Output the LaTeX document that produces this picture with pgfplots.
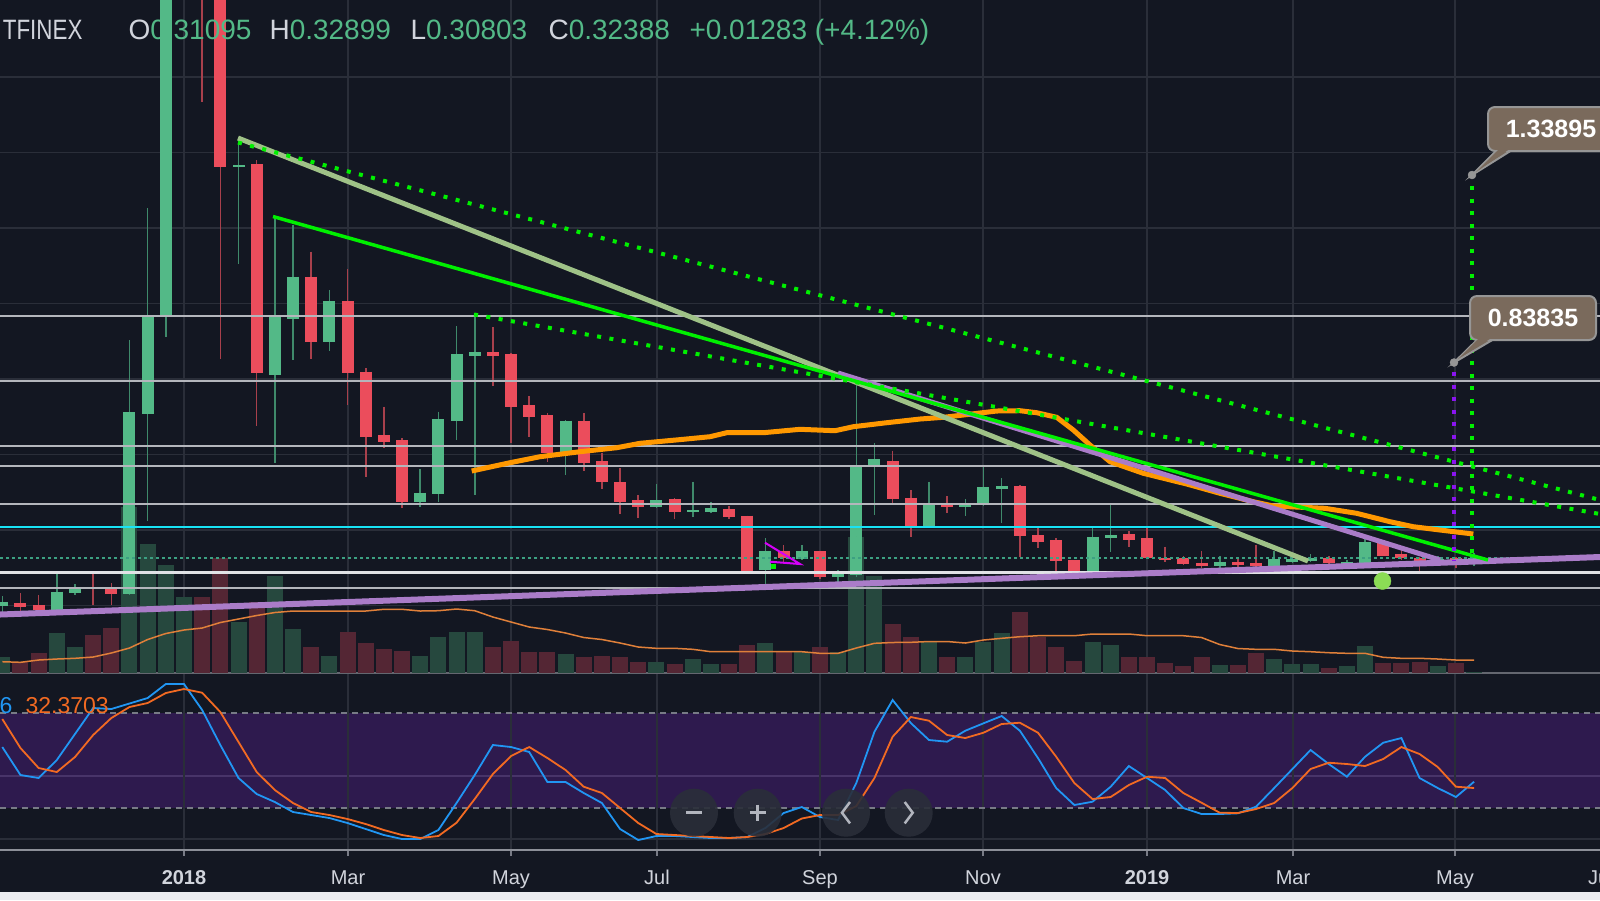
\documentclass[border=0pt]{standalone}
\usepackage{pgfplots}
\usepackage{pgfplotstable}
\pgfplotsset{compat=1.18}
\usepackage{fontspec}
\setmainfont{Liberation Sans}

\definecolor{bg}{HTML}{131722}
\definecolor{gridc}{HTML}{2A2E39}
\definecolor{upc}{HTML}{53B987}
\definecolor{dnc}{HTML}{EB4D5C}
\definecolor{upw}{HTML}{3F8A6B}
\definecolor{dnw}{HTML}{A8404C}
\definecolor{volup}{HTML}{26483E}
\definecolor{voldn}{HTML}{542634}
\definecolor{lvl}{HTML}{B4B6BC}
\definecolor{lvlw}{HTML}{E1E2E6}
\definecolor{sage}{HTML}{9FC287}
\definecolor{lime}{HTML}{00F000}
\definecolor{lav}{HTML}{AA7CC8}
\definecolor{ma}{HTML}{FF9800}
\definecolor{vma}{HTML}{E0803A}
\definecolor{cyanl}{HTML}{18E3F5}
\definecolor{pline}{HTML}{3CA082}
\definecolor{kblue}{HTML}{2196F3}
\definecolor{dorange}{HTML}{F26A22}
\definecolor{band}{HTML}{2E1A4E}
\definecolor{bandgrid}{HTML}{483469}
\definecolor{dashc}{HTML}{787B86}
\definecolor{sepc}{HTML}{646770}
\definecolor{botc}{HTML}{8C8F98}
\definecolor{lbl}{HTML}{D1D4DC}
\definecolor{callout}{HTML}{7A6A5C}
\definecolor{callbd}{HTML}{969696}
\definecolor{violet}{HTML}{8A14F0}
\definecolor{magl}{HTML}{D500F9}
\definecolor{dotg}{HTML}{8BDC55}
\definecolor{btn}{HTML}{2A2E39}
\definecolor{btnsym}{HTML}{B2B5BE}
\definecolor{strip}{HTML}{EBECF0}

% candles: x = pixel column, o h l c = pixel rows, v = top of volume bar
\pgfplotstableread{
x o h l c v
2.3 606 596 612 602 657.3
56.81 610 573 611 591.7 633.3
74.98 593 584 595 588 647.3
129.49 594 340 595 412 506.7
147.66 414 208 521 316 544
165.83 316 -300 337 -250 565
184 -200 -600 -100 -400 596.7
238.51 167 137 264 165 621.7
274.85 375 216.7 463 316.7 576
293.02 319 225 360 276.7 629.3
329.36 341.7 290 350.7 301 656
420.21 501.7 469 506.7 492.7 656
438.38 494 411.7 501.7 419 636.7
456.55 420.7 326 440 354 631.7
474.72 355.7 315 495 352 631.7
565.57 452.7 420 475 420.7 654.3
656.42 506.7 484 508.3 500 661.7
692.76 512.3 481.7 517.3 510 659.3
710.93 512.3 501.7 513.3 508.3 664.3
765.44 570 538.3 585 550.7 643.3
801.78 559.3 545 560 551 651.7
838.12 576.7 570 581.7 572.7 651.7
856.29 574.5 378 576.7 465 536.7
874.46 465 443.3 515 459.3 576
928.97 525.7 481.7 528.3 504.3 641.7
965.31 506.7 499.3 516 503.3 657.3
983.48 505 466 505.5 487.3 641.7
1001.65 489.3 478.3 522.7 486 633.3
1092.5 571.7 528.3 572 536.7 641.7
1110.67 538.3 504 551.7 535 645
1219.69 566 556 568.3 561.7 665
1274.2 566 550.7 566.5 559.3 659.3
1292.37 561.7 556.7 563.3 559 664.3
1310.54 561 554 562 558 664.3
1346.88 564.3 560 565 561.7 666
1365.05 563.3 539 564 542.3 645.7
1437.73 562 556 564 559 666
1474.07 563 553 566 558 671.7
}\upT

\pgfplotstableread{
x o h l c v
20.47 603.3 593 613 606.7 661.7
38.64 605 595 612 610 652.7
93.15 587 573 605 589 635
111.32 588 583 605 594 628.3
202.17 -400 -500 102 -50 596.7
220.34 -50 -100 359 167 558.3
256.68 164 160 426 373 601.7
311.19 276.7 251.7 359 341.7 647.3
347.53 301 269 405 373 631.7
365.7 371.7 368 477 436.7 643.3
383.87 435 406.7 448 441.7 649.3
402.04 440 438 508 501.7 650.7
492.89 352 327 386 355.7 647.3
511.06 354 352.7 443 406.7 640.7
529.23 405 396 436.7 417.3 652.3
547.4 415 413.3 461.7 453.3 652.3
583.74 420.7 413.3 470.7 462.7 657.3
601.91 461 452.7 489.3 481.7 656
620.08 482.3 468 514 501.7 657.3
638.25 500 495 518.3 506.7 661.7
674.59 499.3 498 519.3 512.3 664.3
729.1 509 506 519.3 517.3 664.3
747.27 515.7 515.7 572.7 570.7 645
783.61 551 545 561.7 558.3 650.7
819.95 551 551 579.3 577.3 647.3
892.63 461 450.7 502.7 499.3 624.3
910.8 497.7 490 536.7 525.7 636.7
947.14 504.3 496 512.7 506.7 657.3
1019.82 486 485 556.7 536 611.7
1037.99 535 528.3 548.3 541.7 636.7
1056.16 540 538.3 570.7 560.7 647.3
1074.33 560 560 573 572 661
1128.84 534.3 531 547.3 540 657.3
1147.01 538.3 528.3 558.5 558.3 657.3
1165.18 558.3 546.7 561.7 560.3 663.3
1183.35 558.3 556 565 564.3 666
1201.52 562.7 551 568.3 566 657.3
1237.86 561.7 559.3 566.7 565 665
1256.03 562.7 545 566.7 566 652.7
1328.71 558.3 556 564 563.3 668.3
1383.22 542.3 540 556 555.7 663.3
1401.39 554 550 560 558.3 663.3
1419.56 558.3 556.7 572.7 561.7 661.7
1455.9 558 556.7 568.3 562 663.3
}\dnT

% volume MA, stoch K and D (pixel rows), one row per week
\pgfplotstableread{
x vma k d
2.3 661.7 747 719
20.47 662.3 775 748
38.64 660 778 768
56.81 659 760 772
74.98 658.3 734 757
93.15 657 708 735
111.32 653 709 718
129.49 648 703.5 707
147.66 639.5 698 703
165.83 633.5 684 693
184 630 684 689
202.17 628 710 692.7
220.34 622.5 745 712
238.51 619 778 742
256.68 615.5 794 772
274.85 612.5 802 790
293.02 611 812 803
311.19 611 815 812
329.36 611 818 815
347.53 611 823 819
365.7 611 829 824
383.87 609.3 835 830
402.04 609.3 839 835
420.21 611 839 838
438.38 610.7 830 836
456.55 609 803 822.7
474.72 610.7 775 799
492.89 617 745 774
511.06 622 747 756
529.23 627 752 747
547.4 629.5 782 758
565.57 633 782 770
583.74 637.5 793 786.7
601.91 639.5 803 793
620.08 643 829 808
638.25 647 840 823
656.42 648.3 836 834
674.59 648.3 836 835
692.76 649.3 837 836
710.93 651.7 838 837
729.1 651.7 838 838
747.27 651.7 837 837
765.44 651.7 828 834
783.61 651.7 813 828
801.78 651.7 807 818.5
819.95 653.3 817 815
838.12 653.3 820 815
856.29 648 783 806
874.46 643.3 731.7 778
892.63 642.5 700 736.7
910.8 642.3 723 717
928.97 641.5 740 720.7
947.14 641.5 741.7 735
965.31 643 730.7 738
983.48 640 723.3 732.7
1001.65 638.3 716 724
1019.82 636.7 730.7 722.7
1037.99 635.7 758 732.7
1056.16 635.7 788 756.7
1074.33 635.7 805 783
1092.5 634 801.7 799
1110.67 634 786.7 797
1128.84 634 766 785
1147.01 635.7 778 776.7
1165.18 635.7 790 778
1183.35 635.7 808 793
1201.52 637.5 814 802.7
1219.69 644.5 814 812.7
1237.86 648.5 813.3 813
1256.03 649.3 806.7 809
1274.2 649.3 788 803
1292.37 651 769 788
1310.54 651.7 750 769
1328.71 652.7 764 762.7
1346.88 653.3 776.7 764
1365.05 653.3 756.7 766
1383.22 657.3 742.7 759
1401.39 658.3 738 747
1419.56 658.3 778 754
1437.73 659 788 767
1455.9 660 797 786.7
1474.07 660 781.7 788
}\indT

\pgfplotsset{
  seg/.style n args={2}{only marks, mark=none, mark size=0pt,
    mark options={draw=none, fill=none}, color=#2, forget plot,
    error bars/.cd, y dir=plus, y explicit, error mark=none,
    error bar style={line width=#1, draw=#2}},
}
\newcommand\hdr{\fontsize{28}{32}\selectfont}
\newcommand\tfont{\fontsize{20}{24}\selectfont}

\begin{document}
\begin{tikzpicture}
\useasboundingbox (0,0) rectangle (1600pt,900pt);
\clip (0,0) rectangle (1600pt,900pt);
\fill[bg] (0,0) rectangle (1600pt,900pt);
\begin{axis}[
  at={(0,0)}, anchor=south west,
  width=1600pt, height=900pt, scale only axis,
  xmin=0, xmax=1600, ymin=0, ymax=900, y dir=reverse,
  hide axis,
]
% grid
\pgfplotsinvokeforeach{77,152.5,228,303.5,379,454.5,530,605.5}{
  \draw[gridc, line width=1.5pt] (0,#1) -- (1600,#1);}
\fill[band] (0,713) rectangle (1600,808);
\draw[gridc, line width=1.5pt] (0,839) -- (1600,839);
\draw[bandgrid, line width=1.5pt] (0,776) -- (1600,776);
\pgfplotsinvokeforeach{184,348,511,657,820,983,1147,1293,1455}{
  \draw[gridc, line width=1.5pt] (#1,0) -- (#1,850);
  \draw[dashc, line width=1.2pt] (#1,850) -- (#1,856);}
\draw[dashc, line width=1.5pt, dash pattern=on 6pt off 5pt] (0,713) -- (1600,713);
\draw[dashc, line width=1.5pt, dash pattern=on 6pt off 5pt] (0,808) -- (1600,808);
\draw[sepc, line width=1.5pt] (0,673) -- (1600,673);
\draw[botc, line width=1.5pt] (0,850) -- (1600,850);

% volume
\addplot[seg={16pt}{volup}] table[x=x, y=v, y error expr=673-\thisrow{v}] {\upT};
\addplot[seg={16pt}{voldn}] table[x=x, y=v, y error expr=673-\thisrow{v}] {\dnT};
\addplot[vma, line width=1.5pt] table[x=x, y=vma] {\indT};

% candles
\addplot[seg={1.6pt}{upw}] table[x=x, y=h, y error expr=\thisrow{l}-\thisrow{h}] {\upT};
\addplot[seg={1.6pt}{dnw}] table[x=x, y=h, y error expr=\thisrow{l}-\thisrow{h}] {\dnT};
\addplot[seg={12pt}{upc}] table[x=x, y=c, y error expr=\thisrow{o}-\thisrow{c}] {\upT};
\addplot[seg={12pt}{dnc}] table[x=x, y=o, y error expr=\thisrow{c}-\thisrow{o}] {\dnT};

% horizontal levels
\pgfplotsinvokeforeach{316,381,446,466,504,588}{
  \addplot[lvl, line width=2.2pt] coordinates {(0,#1) (1600,#1)};}
\addplot[lvlw, line width=2.2pt] coordinates {(0,572.5) (1600,572.5)};
\addplot[cyanl, line width=2.6pt] coordinates {(0,527) (1600,527)};
\addplot[pline, line width=1.5pt, dash pattern=on 3pt off 3pt] coordinates {(0,558) (1600,558)};

% drawings
\addplot[ma, line width=5pt] coordinates {
(471.7,471) (510,462.7) (540,456.7) (580,451.7) (616.7,447.7) (640,443.3)
(683.3,439.3) (710,436.7) (726.7,432.7) (763.3,432.7) (800,429.3) (835,430.7)
(853.3,426.7) (886.7,422.7) (920,419) (943.3,417.3) (963.3,415) (996.7,411)
(1020,410.7) (1036.7,412.7) (1056.7,417.3) (1073.3,430) (1090,445) (1110,461.7)
(1143.3,473.3) (1186.7,484) (1220,493.3) (1253.3,501.7) (1273.3,506) (1325,508.3)
(1356.7,513.3) (1390,521.7) (1413.3,526.7) (1440,530) (1473.3,534)};
\addplot[lav, line width=6pt] coordinates {(0,614.5) (1600,557)};
\addplot[sage, line width=5pt] coordinates {(238,138) (1308,561)};
\addplot[lav, line width=5pt] coordinates {(838,373) (1440,560)};
\addplot[lime, line width=3.5pt] coordinates {(273,216.5) (1488,560)};
\addplot[lime, line width=4pt, dash pattern=on 4pt off 8.5pt] coordinates {(238,142.5) (1600,500)};
\addplot[lime, line width=4pt, dash pattern=on 4pt off 8.5pt] coordinates {(474,314.5) (1600,514)};
\addplot[lime, line width=4pt, dash pattern=on 4pt off 8.5pt] coordinates {(1472,186) (1472,560)};
\addplot[violet, line width=4pt, dash pattern=on 4pt off 8.5pt] coordinates {(1454,372) (1454,560)};
\addplot[magl, line width=2pt] coordinates {(765,542.7) (800,564) (770,561.7)};
\addplot[only marks, mark=square*, mark size=2pt, lime] coordinates {(772.7,566)};
\addplot[only marks, mark=*, mark size=8.5pt, dotg] coordinates {(1382.5,581)};

% stochastic
\addplot[kblue, line width=1.8pt] table[x=x, y=k] {\indT};
\addplot[dorange, line width=1.8pt] table[x=x, y=d] {\indT};

% callouts
\filldraw[fill=callout, draw=callbd, line width=2pt] (1472,175) -- (1497,150) -- (1512,150) -- cycle;
\filldraw[fill=callout, draw=callbd, line width=2pt, rounded corners=7pt] (1488,107) rectangle (1620,151);
\fill[callout] (1500,148) -- (1511,148) -- (1476,172) -- cycle;
\filldraw[fill=callout, draw=callbd, line width=2pt] (1454,362.5) -- (1478,339) -- (1494,339) -- cycle;
\filldraw[fill=callout, draw=callbd, line width=2pt, rounded corners=7pt] (1470,296) rectangle (1596,340);
\fill[callout] (1480,337) -- (1493,337) -- (1458,359) -- cycle;
\addplot[only marks, mark=*, mark size=4pt, callbd] coordinates {(1472,175) (1454,362.5)};
\node[font=\fontsize{25}{28}\selectfont\bfseries, text=white] at (1551,128.5) {1.33895};
\node[font=\fontsize{25}{28}\selectfont\bfseries, text=white] at (1533,318) {0.83835};

% navigation buttons
\pgfplotsinvokeforeach{694,757.7,846,908.7}{
  \fill[btn, opacity=0.9] (#1,812.7) circle[radius=24pt];}
\draw[btnsym, line width=2.5pt] (686,812.7) -- (702,812.7);
\draw[btnsym, line width=2.5pt] (749.7,812.7) -- (765.7,812.7) (757.7,804.7) -- (757.7,820.7);
\draw[btnsym, line width=2.5pt] (850,802) -- (842,812.7) -- (850,823.4);
\draw[btnsym, line width=2.5pt] (904.7,802) -- (912.7,812.7) -- (904.7,823.4);

% header
\node[anchor=base west, font=\hdr, text=lbl, xscale=0.8] at (0,39.5) {TFINEX};
\node[anchor=base west, font=\hdr] at (125,39.5) {\textcolor{lbl}{O}\textcolor{upc}{0.31095}};
\node[anchor=base west, font=\hdr] at (266,39.5) {\textcolor{lbl}{H}\textcolor{upc}{0.32899}};
\node[anchor=base west, font=\hdr] at (407,39.5) {\textcolor{lbl}{L}\textcolor{upc}{0.30803}};
\node[anchor=base west, font=\hdr] at (545,39.5) {\textcolor{lbl}{C}\textcolor{upc}{0.32388}};
\node[anchor=base west, font=\hdr, text=upc] at (686,39.5) {+0.01283 (+4.12\%)};
\node[anchor=base west, font=\fontsize{23}{26}\selectfont, text=kblue] at (-4,713) {6};
\node[anchor=base west, font=\fontsize{23}{26}\selectfont, text=dorange] at (22,713) {32.3703};

% time axis
\node[anchor=base, font=\tfont\bfseries, text=lbl] at (184,884) {2018};
\node[anchor=base, font=\tfont, text=lbl] at (348,884) {Mar};
\node[anchor=base, font=\tfont, text=lbl] at (511,884) {May};
\node[anchor=base, font=\tfont, text=lbl] at (657,884) {Jul};
\node[anchor=base, font=\tfont, text=lbl] at (820,884) {Sep};
\node[anchor=base, font=\tfont, text=lbl] at (983,884) {Nov};
\node[anchor=base, font=\tfont\bfseries, text=lbl] at (1147,884) {2019};
\node[anchor=base, font=\tfont, text=lbl] at (1293,884) {Mar};
\node[anchor=base, font=\tfont, text=lbl] at (1455,884) {May};
\node[anchor=base, font=\tfont, text=lbl] at (1601,884) {Jul};
\fill[strip] (0,892) rectangle (1600,900);
\end{axis}
\end{tikzpicture}
\end{document}
